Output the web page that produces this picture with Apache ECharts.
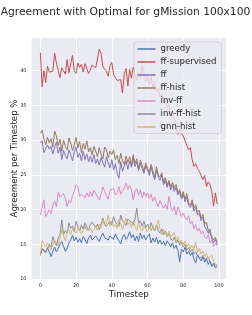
<!DOCTYPE html>
<html><head><meta charset="utf-8">
<script src="https://cdn.jsdelivr.net/npm/echarts@6/dist/echarts.min.js"></script>
<style>html,body{margin:0;padding:0;background:#fff}#c{width:252px;height:315px}</style>
</head><body><div id="c"></div>
<script>
const seriesNames = ['greedy','ff-supervised','ff','ff-hist','inv-ff','inv-ff-hist','gnn-hist'];
const xTicks = [0,20,40,60,80,100];
const yTicks = [10,15,20,25,30,35,40];
const greedy = [13.5,14.3,14.2,13.8,14.5,13.9,13.2,14.0,14.6,13.9,
14.4,15.0,15.4,14.7,14.0,14.4,15.2,15.6,16.3,15.5,
16.0,15.3,15.8,15.2,16.1,15.7,15.1,15.9,16.3,15.6,
15.7,16.2,16.0,15.4,16.1,16.6,16.0,15.8,15.6,16.2,
16.3,15.7,16.5,15.9,15.8,15.1,16.0,16.4,15.7,16.1,
16.8,15.9,16.4,15.5,16.2,15.4,16.6,15.8,16.3,15.6,
16.1,16.5,15.2,15.9,15.3,16.0,15.1,15.6,15.0,15.4,
14.8,15.5,15.1,14.6,15.2,14.4,14.9,14.1,12.5,14.3,
13.9,14.6,13.6,14.0,13.4,13.8,12.9,12.3,13.5,13.0,
12.6,13.2,12.4,12.9,12.1,12.6,11.8,12.2,11.6,11.8];
const ffSupervised = [42.6,37.7,40.0,38.3,40.6,39.8,39.6,39.9,42.5,41.1,
41.0,39.0,40.4,40.0,39.5,41.6,39.7,39.9,42.2,39.9,
39.6,41.1,40.5,40.9,39.8,41.0,41.2,39.6,40.1,40.8,
41.0,40.4,40.3,43.1,42.5,40.6,40.2,39.9,39.2,40.7,
41.2,39.4,39.5,38.6,38.5,38.7,36.8,39.6,40.3,37.8,
40.2,38.9,40.5,39.3,38.6,39.8,38.9,40.8,39.5,38.4,
39.2,38.0,39.1,37.6,38.3,37.0,37.4,36.3,36.6,35.4,
35.8,34.6,35.1,33.8,34.2,32.7,32.9,30.8,31.5,31.0,
30.6,29.9,29.8,28.6,28.9,27.2,26.2,26.6,25.9,25.5,
25.7,24.3,24.9,23.3,24.0,23.6,22.6,20.5,22.4,20.8];
const ff = [29.6,29.9,28.2,28.3,29.3,28.7,29.1,28.0,29.0,29.7,
28.1,29.0,27.2,28.5,27.8,27.3,28.6,27.9,27.0,28.3,
29.0,27.5,28.1,27.0,28.4,27.2,28.0,26.9,27.7,26.8,
27.9,26.6,27.3,26.4,27.5,26.8,26.1,27.6,26.7,26.0,
27.2,25.7,26.6,25.2,24.5,26.9,25.5,26.3,27.0,25.8,
27.0,26.1,27.4,26.2,26.9,25.6,26.7,25.9,25.2,26.3,
25.7,24.9,26.2,25.1,24.3,25.6,24.7,24.2,25.0,23.6,
24.2,23.2,23.9,22.8,23.5,22.6,23.2,22.1,22.6,21.5,
22.2,21.1,21.8,20.6,20.3,21.0,19.8,20.3,19.2,19.5,
18.4,18.9,17.6,17.8,16.6,17.2,15.8,15.2,15.7,14.9];
const ffHist = [31.0,31.4,30.1,29.3,30.4,29.6,30.2,29.0,31.3,30.6,
29.2,30.1,28.4,30.0,29.1,28.6,30.3,29.6,28.5,29.3,
30.4,28.9,29.8,28.2,29.5,28.7,29.9,28.3,28.9,27.9,
29.1,28.4,27.6,28.9,28.0,27.3,29.0,28.6,27.5,28.4,
27.9,28.6,27.2,27.8,26.6,28.1,27.0,26.5,27.7,26.8,
27.6,26.3,27.9,26.6,27.3,25.9,27.1,26.4,25.5,26.7,
26.0,25.2,26.5,25.6,24.6,26.2,25.0,24.7,25.3,23.9,
24.6,23.5,24.2,23.3,23.9,23.0,23.6,22.4,22.9,21.8,
22.6,21.5,22.3,21.0,20.6,21.4,20.2,20.7,19.6,19.9,
18.8,19.3,17.9,18.2,17.0,16.8,16.1,15.6,16.0,15.3];
const invFf = [19.2,20.3,21.4,19.0,19.5,20.0,19.4,20.6,21.2,20.4,
22.5,21.8,21.9,22.3,21.6,20.4,21.3,21.0,22.0,22.6,
23.6,23.3,21.9,22.2,22.0,21.7,22.4,21.8,22.6,21.9,
22.8,22.3,22.5,21.4,22.2,23.3,22.6,22.0,21.5,22.8,
22.6,23.0,22.1,22.4,23.3,22.2,22.7,23.1,23.8,22.9,
23.5,22.8,21.4,22.6,23.0,22.1,22.8,21.7,22.5,21.9,
22.4,21.6,22.2,21.2,21.8,21.0,20.4,21.3,20.7,20.2,
20.8,20.0,21.9,20.4,19.8,20.5,19.2,20.4,19.7,19.0,
19.5,18.8,18.5,19.1,17.9,18.3,17.2,17.8,16.9,17.3,
16.5,16.9,16.1,15.8,16.4,15.2,15.6,14.7,15.1,14.9];
const invFfHist = [13.5,14.4,14.6,13.9,14.3,15.0,14.6,16.1,15.3,14.8,
15.9,16.3,18.5,16.4,17.0,16.6,18.1,17.3,17.6,16.8,
18.3,17.6,16.9,17.8,17.2,18.1,17.5,17.0,17.9,18.2,
18.3,17.4,17.9,17.1,17.9,18.75,18.0,17.6,17.5,18.3,
17.8,19.0,18.2,18.0,17.6,19.2,18.4,18.1,17.7,18.6,
18.8,18.2,17.8,18.6,20.2,18.0,18.4,17.6,18.3,17.4,
17.9,17.2,18.1,17.4,16.9,17.8,17.0,16.6,17.2,16.4,
16.9,16.1,16.5,15.8,15.5,16.0,15.2,15.6,14.9,15.3,
14.6,15.0,14.2,14.5,13.9,14.3,13.6,13.9,13.3,13.5,
13.0,13.4,12.8,12.6,13.1,12.4,12.0,12.3,11.9,12.1];
const gnnHist = [13.3,15.5,15.6,14.6,15.2,15.0,14.2,14.9,15.6,15.8,
14.8,16.0,17.1,16.2,15.5,16.8,17.1,16.4,17.3,16.9,
16.6,17.4,17.3,16.5,17.0,17.6,17.0,16.8,17.3,16.7,
17.1,17.6,17.0,17.9,17.4,18.5,17.7,18.0,19.2,17.6,
18.3,17.5,17.9,17.3,18.6,17.9,17.1,18.0,18.75,17.8,
18.2,17.4,18.4,17.6,17.0,18.1,17.3,16.9,17.6,17.2,
16.8,17.5,16.9,17.8,17.0,17.6,18.5,17.2,16.4,17.1,
16.6,16.2,16.9,16.0,15.8,16.7,15.4,16.1,15.2,15.6,
15.0,15.5,14.6,15.1,14.4,14.9,14.2,15.3,13.8,14.4,
13.6,14.0,13.3,13.7,12.9,13.2,13.5,12.5,12.2,12.0];
const colors = ['#4C72B0','#C44E52','#8172B3','#937860','#DA8BC3','#8C8C8C','#CCB974'];
const allData = [greedy, ffSupervised, ff, ffHist, invFf, invFfHist, gnnHist];

const chart = echarts.init(document.getElementById('c'), null, {renderer:'canvas'});
const font = 'DejaVu Sans';
const series = seriesNames.map((n,i)=>({
  name:n, type:'line', data: allData[i].map((v,t)=>[t,v]),
  showSymbol:false, symbol:'none', clip:false,
  lineStyle:{color:colors[i], width:1}, itemStyle:{color:colors[i]}
}));
chart.setOption({
  animation:false,
  textStyle:{fontFamily:font},
  grid:{left:31.5, right:26, top:38, bottom:36, show:true, backgroundColor:'#EAEAF2', borderWidth:0},
  xAxis:{type:'value', min:-4.95, max:103.95, minInterval:20, maxInterval:20,
    axisLine:{show:false}, axisTick:{show:false},
    splitLine:{show:true, showMinLine:false, showMaxLine:false, lineStyle:{color:'#fff', width:1}},
    axisLabel:{show:true, showMinLabel:false, showMaxLabel:false, fontSize:5, color:'#262626', margin:4.3, fontFamily:font,
      formatter:v=> xTicks.includes(v)? String(v):''}},
  yAxis:{type:'value', min:10, max:44.7, interval:5,
    axisLine:{show:false}, axisTick:{show:false},
    splitLine:{show:true, showMinLine:true, showMaxLine:false, lineStyle:{color:'#fff', width:1}},
    axisLabel:{show:true, showMaxLabel:false, fontSize:5, color:'#262626', margin:5, fontFamily:font,
      formatter:v=> yTicks.includes(v)? String(v):''}},
  legend:{orient:'vertical', left:134, top:42, data:seriesNames, icon:'rect', itemWidth:18, itemHeight:1.5,
    itemGap:0, padding:[0.5,5,0,3.5], backgroundColor:'rgba(234,234,242,0.8)', borderColor:'#cccccc', borderWidth:0.8, borderRadius:2,
    textStyle:{fontSize:8.6, color:'#262626', fontFamily:font, lineHeight:13}},
  graphic:[
    {type:'text', x:125.5, y:12, style:{text:'Agreement with Optimal for gMission 100x100', font:'10.7px "DejaVu Sans"', fill:'#262626', textAlign:'center', textVerticalAlign:'middle'}},
    {type:'text', x:128.75, y:295, style:{text:'Timestep', font:'8.7px "DejaVu Sans"', fill:'#262626', textAlign:'center', textVerticalAlign:'middle'}},
    {type:'text', x:15, y:158.5, rotation:Math.PI/2, originX:0, originY:0, style:{text:'Agreement per Timestep %', font:'8.6px "DejaVu Sans"', fill:'#262626', textAlign:'center', textVerticalAlign:'middle'}}
  ],
  series:series
});
</script></body></html>
